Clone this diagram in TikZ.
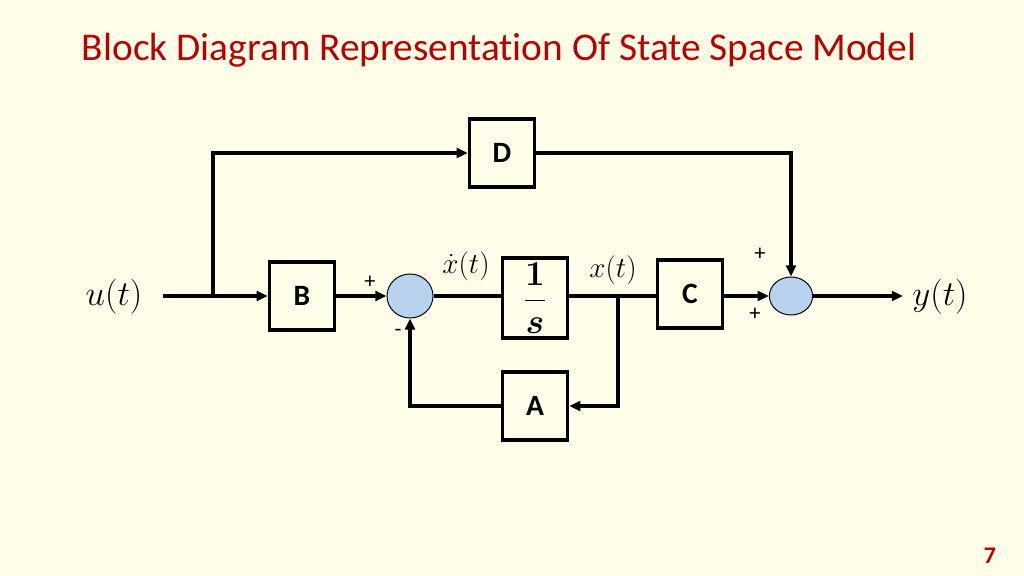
\documentclass[tikz,border=0pt]{standalone}
\usepackage{amsmath,amssymb}
\usepackage{bm}
\usepackage{xcolor}
\usepackage{fontspec}
\setmainfont{Carlito}[Ligatures=NoCommon]
\usepackage{tikz}
\usetikzlibrary{arrows.meta,shapes.geometric}
\definecolor{bgcream}{HTML}{FFFFE9}
\definecolor{titlered}{HTML}{B80000}
\definecolor{sumblue}{HTML}{B9D2EE}
\tikzset{
  blk/.style={draw, line width=2.3pt, minimum width=1.63cm, minimum height=1.7cm, inner sep=0pt, font=\fontsize{21}{24}\selectfont\bfseries},
  sumnode/.style={draw, line width=0.7pt, fill=sumblue, ellipse, inner sep=0pt},
  wire/.style={line width=2.3pt},
  sig/.style={wire, -{Triangle[length=8pt,width=7pt]}},
  pm/.style={font=\fontsize{16}{18}\selectfont},
  lbl/.style={font=\fontsize{24}{28}\selectfont}
}

\begin{document}
\begin{tikzpicture}[x=0.025cm, y=-0.025cm]
  \fill[bgcream] (0,0) rectangle (1024,576);
  \useasboundingbox (0,0) rectangle (1024,576);
  \node[anchor=base west, text=titlered, font=\fontsize{28}{32}\selectfont] (title) at (77,61) {Block Diagram Representation Of State Space Model};
  \node[text=titlered, font=\fontsize{17}{20}\selectfont\bfseries] (pgnum) at (990,556) {7};

  \node[lbl] (u) at (114,297) {$u(t)$};
  \coordinate (uin) at (163,296);
  \coordinate (tap) at (213,296);
  \node[blk] (B) at (302,296) {B};
  \node[sumnode, minimum width=1.15cm, minimum height=1.1cm] (s1) at (410,296) {};
  \node[blk, minimum height=2cm, font=\fontsize{24}{28}\selectfont] (int) at (535,298) {$\displaystyle\frac{\bm{1}}{\bm{s}}$};
  \coordinate (xtap) at (618,296);
  \node[blk] (C) at (690,294) {C};
  \node[sumnode, minimum width=1.08cm, minimum height=0.95cm] (s2) at (791,296) {};
  \coordinate (yout) at (903,296);
  \node[lbl] (y) at (940,297) {$y(t)$};
  \node[blk] (D) at (502,153) {D};
  \node[blk] (A) at (535,406) {A};

  \draw[sig] (uin) -- (uin -| B.west);
  \draw[sig] (tap) |- (D);
  \draw[sig] (B.east |- s1) -- (s1);
  \draw[wire] (s1) -- (s1 -| int.west);
  \draw[wire] (int.east |- xtap) -- (xtap -| C.west);
  \draw[sig] (xtap) |- (A);
  \draw[sig] (A) -| (s1);
  \draw[sig] (C.east |- s2) -- (s2);
  \draw[sig] (D) -| (s2);
  \draw[sig] (s2) -- (yout);

  \node[lbl, font=\fontsize{20}{24}\selectfont] (xdot) at (466,266) {$\dot{x}(t)$};
  \node[lbl, font=\fontsize{20}{24}\selectfont] (xlab) at (613,270) {$x(t)$};
  \node[pm] (p1) at (370,282) {+};
  \node[pm] (m1) at (398,333) {-};
  \node[pm] (p2) at (760,254) {+};
  \node[pm] (p3) at (755,314) {+};
\end{tikzpicture}
\end{document}
